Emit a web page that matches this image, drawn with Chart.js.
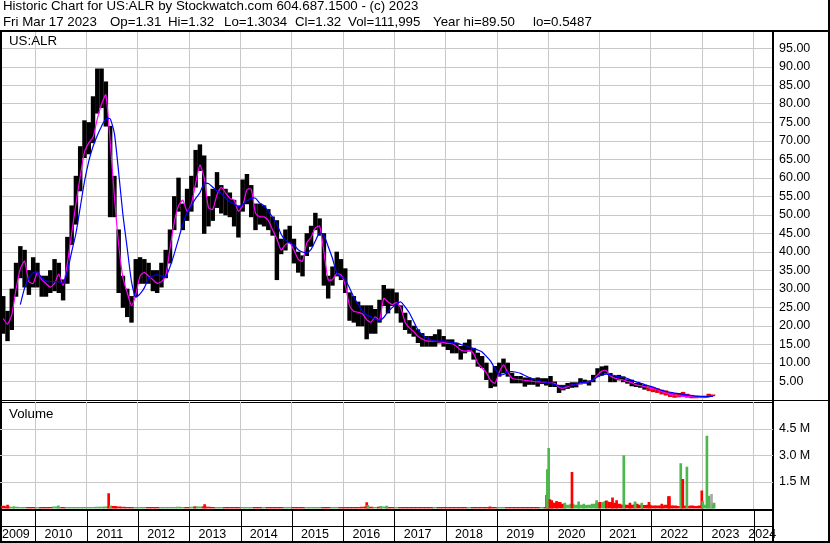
<!DOCTYPE html>
<html>
<head>
<meta charset="utf-8">
<script src="https://cdn.jsdelivr.net/npm/chart.js@4.4.1/dist/chart.umd.min.js"></script>
<style>
  html, body { margin: 0; padding: 0; background: #fff; }
  #wrap { position: relative; width: 830px; height: 543px; overflow: hidden; background: #fff;
          font-family: Arial, "Liberation Sans", sans-serif; }
  canvas { position: absolute; left: 0; top: 0; }
  .txt { position: absolute; white-space: pre; color: #000; font-size: 13.3px; line-height: 15px; }
</style>
</head>
<body>
<div id="wrap">
  <canvas id="price" width="830" height="543"></canvas>
  <canvas id="volume" width="830" height="543"></canvas>
  <div class="txt" style="left:3px;top:-2px">Historic Chart for US:ALR by Stockwatch.com 604.687.1500 - (c) 2023</div>
  <div class="txt" style="left:3px;top:14px">Fri Mar 17 2023</div>
  <div class="txt" style="left:110px;top:14px">Op=1.31</div>
  <div class="txt" style="left:168px;top:14px">Hi=1.32</div>
  <div class="txt" style="left:224px;top:14px">Lo=1.3034</div>
  <div class="txt" style="left:295px;top:14px">Cl=1.32</div>
  <div class="txt" style="left:348px;top:14px">Vol=111,995</div>
  <div class="txt" style="left:433px;top:14px">Year hi=89.50</div>
  <div class="txt" style="left:533px;top:14px">lo=0.5487</div>
  <div class="txt" style="left:9px;top:33px">US:ALR</div>
  <div class="txt" style="left:9px;top:406px">Volume</div>
</div>
<script>
// monthly bars, first one is May 2009
const firstMonth = 2009 + 4 / 12;

const priceHigh = [
  28, 24, 30, 37, 41.5, 40.5, 35, 38.5, 37, 33.5,
  33.5, 35, 38, 37, 32.5, 44, 52.5, 60.5, 68.5, 75.5,
  75, 82, 89.5, 89.5, 86, 74, 60.5, 46, 33.5, 30,
  28, 38, 38.5, 38, 37, 35, 35, 37, 40.5, 46,
  55, 60, 53, 57, 60.5, 67.5, 69, 66, 55, 57,
  61.5, 58, 57, 56, 54, 52.5, 59.5, 61, 58, 53,
  53, 52.5, 51.5, 49.5, 48.5, 43.5, 46, 47, 43.5, 40,
  39, 45, 47, 50.5, 49, 45, 33.5, 36, 40, 38,
  35.5, 29, 28, 26.5, 25.5, 25.5, 25.5, 24.5, 27, 31,
  30, 30, 29, 25.5, 23.5, 21.5, 20, 19, 18, 17.2,
  17.2, 17.7, 19, 17.2, 16.3, 16.3, 15.4, 14.5, 15.4, 16.3,
  14, 12.7, 11.8, 10, 7.3, 9.1, 10, 11.1, 10, 7.3,
  6.4, 6.4, 6, 6, 5.8, 6, 5.8, 5.8, 6.4, 4.9,
  4, 4, 4.5, 4.7, 4.7, 5.8, 5.4, 5.2, 6.7, 8.5,
  9, 9.2, 7.2, 6.5, 6.7, 6.3, 5.5, 5.4, 4.5, 4.5,
  4, 3.6, 3.4, 3.1, 2.7, 2.5, 2, 1.8, 1.8, 2.1,
  1.6, 1.3, 1.1, 1.1, 1.1, 1.6, 1.4
];
const priceLow = [
  18, 16, 19, 28, 33, 30.5, 28.5, 30.5, 30.5, 28,
  28, 29, 29.5, 29, 27, 31.5, 42, 47.5, 56.5, 65.5,
  66.5, 69.5, 77.5, 79, 74, 49.5, 49.5, 29, 25, 22.5,
  21, 28, 31.5, 31.5, 31.5, 29.5, 29, 30.5, 33, 37,
  46, 51, 46, 48.5, 51, 57.5, 62, 45, 47, 48.5,
  52, 50.5, 50, 49.5, 47, 44, 51, 53, 49.5, 46,
  47.5, 47, 46, 44.5, 32.5, 39.5, 40.5, 42.5, 37, 34.5,
  33.5, 39, 41.5, 46, 44.5, 31, 27.5, 31, 33.5, 32.5,
  29, 21.5, 21, 20, 20, 16.5, 18, 18, 21, 25.5,
  23.5, 25.5, 23.5, 21, 19, 18, 17.2, 15.5, 14.5, 14.5,
  14.5, 14.5, 15.4, 14.5, 13.6, 12.7, 12.7, 11, 12.7, 13.2,
  11, 9.1, 8.7, 5.5, 3.3, 3.7, 6.4, 7.3, 6.4, 4.6,
  4.6, 4.6, 3.7, 4.2, 4.2, 3.7, 4.4, 4, 3.6, 3.6,
  2, 2.7, 3.1, 3.4, 3.5, 4.3, 4.5, 4, 4.9, 6.3,
  6.7, 7.2, 4.9, 4.9, 5.4, 4.9, 4.5, 3.8, 3.6, 3.4,
  2.9, 2.5, 2.2, 2, 1.6, 1.3, 0.9, 0.7, 0.8, 0.9,
  0.7, 0.55, 0.55, 0.6, 0.6, 1, 1.1
];
// magenta (short) and blue (long) moving averages as drawn
const avgShort = [
  22, 20.5, 23, 30, 35.5, 37.5, 32, 31.5, 34.5, 32.5,
  31.5, 30.5, 31.5, 34, 31, 37, 45, 53, 60.4, 67,
  69.5, 71, 76, 80, 82.5, 70, 55, 42, 33, 29,
  25.5, 28.5, 33.5, 34.5, 33.5, 32.5, 31.5, 32, 33.5, 41,
  48, 52.5, 54, 51, 53, 58.5, 63.5, 60, 52, 51.5,
  55.5, 57.5, 56, 54.5, 54, 51, 52.5, 56.8, 57, 50.5,
  49.5, 49.5, 48.5, 46, 43.5, 40.5, 42, 42.5, 40.5, 38,
  37.5, 42.5, 44, 46.5, 47, 40, 32.5, 32.5, 34.2, 33.8,
  31, 25.5, 24, 23.7, 23.3, 21.7, 21, 22.5, 21.5, 27.5,
  26.5, 25.8, 26.3, 24.8, 21, 19.5, 18.5, 17.2, 16.5, 16,
  15.9, 15.9, 15.7, 15.5, 15.3, 15.2, 14.5, 13.5, 13.2, 13.4,
  12.6, 10, 8.7, 7.3, 5.3, 4.5, 7.5, 9.5, 7.5, 5.9,
  5.6, 5.5, 5.3, 5.2, 5.0, 4.9, 4.9, 4.8, 4.6, 4.5,
  3.4, 3.2, 3.6, 4.0, 4.2, 4.5, 4.6, 5.0, 5.4, 6.8,
  7.8, 8.0, 6.5, 5.9, 5.6, 5.4, 5.0, 4.7, 4.1, 3.9,
  3.6, 3.3, 3.0, 2.8, 2.3, 1.9, 1.5, 1.3, 1.1, 1.0,
  0.95, 0.9, 0.8, 0.7, 0.7, 0.8, 1.1
];
const avgLong = [
  null, null, null, null, 25.8, 30.3, 33, 34.4, 34.6, 33,
  32.2, 32, 32, 32, 31.5, 34.8, 40, 45, 52, 59,
  64.5, 68.5, 71.5, 74, 76, 76, 72, 61.5, 50, 41,
  32, 27.8, 28.7, 30.3, 32.8, 33.5, 33.8, 33.5, 33.3, 36,
  39.5, 43.5, 47.5, 50.6, 52.5, 54.5, 56, 58.6, 58.5, 57.5,
  56.5, 55.8, 54.5, 53.6, 53, 52.3, 52.8, 53.8, 54.5, 54.5,
  53.2, 52.5, 51, 49.4, 47.5, 44.8, 43.2, 42.5, 41.9, 40.6,
  40, 39.8, 40.7, 43, 45.2, 44.5, 41.5, 38.3, 34.4, 33.4,
  32.5, 30.3, 27.8, 25.8, 24, 23, 22.5, 21.9, 21.5, 22.3,
  23.9, 25, 26, 26.5, 25.2, 23.5, 21.2, 19, 17.6, 16.8,
  16.3, 15.9, 15.9, 15.9, 15.8, 15.5, 15.4, 15, 14.7, 14.3,
  13.9, 13.5, 13, 11.8, 10.5, 8.5, 6.9, 6.9, 7.6, 7.7,
  7.5, 7.2, 6.6, 6.1, 5.6, 5.4, 5.0, 4.8, 4.5, 4.2,
  3.9, 3.8, 3.9, 4.0, 4.3, 4.7, 4.8, 4.9, 5.5, 6.2,
  6.7, 7.0, 6.8, 6.6, 6.3, 6.1, 5.8, 5.3, 4.9, 4.6,
  4.2, 3.8, 3.5, 3.0, 2.6, 2.3, 2.1, 1.9, 1.7, 1.5,
  1.3, 1.2, 1.05, 0.95, 0.9, 0.95, 1.0
];
// typical volume per month (millions)
const volBase = [
  0.14, 0.1, 0.08, 0.08, 0.07, 0.07, 0.06, 0.07,
  0.06, 0.06, 0.07, 0.07, 0.09, 0.07, 0.06, 0.06, 0.07, 0.06, 0.06, 0.07,
  0.07, 0.07, 0.08, 0.08, 0.1, 0.12, 0.12, 0.1, 0.08, 0.07, 0.06, 0.06,
  0.06, 0.06, 0.06, 0.07, 0.06, 0.06, 0.06, 0.06, 0.07, 0.08, 0.07, 0.07,
  0.08, 0.09, 0.1, 0.09, 0.08, 0.07, 0.07, 0.06, 0.06, 0.06, 0.06, 0.06,
  0.06, 0.06, 0.06, 0.06, 0.06, 0.06, 0.06, 0.06, 0.06, 0.06, 0.06, 0.06,
  0.06, 0.06, 0.06, 0.06, 0.06, 0.06, 0.07, 0.07, 0.06, 0.06, 0.06, 0.06,
  0.06, 0.06, 0.06, 0.07, 0.08, 0.09, 0.08, 0.07, 0.08, 0.09, 0.07, 0.06,
  0.06, 0.06, 0.06, 0.06, 0.06, 0.06, 0.06, 0.06, 0.06, 0.06, 0.06, 0.06,
  0.06, 0.06, 0.06, 0.06, 0.06, 0.06, 0.06, 0.06, 0.06, 0.06, 0.06, 0.06,
  0.06, 0.06, 0.06, 0.06, 0.06, 0.06, 0.06, 0.06, 0.06, 0.06, 0.06, 0.06,
  0.45, 0.3, 0.35, 0.25, 0.2, 0.25, 0.2, 0.2, 0.18, 0.2, 0.25, 0.3,
  0.35, 0.4, 0.35, 0.3, 0.25, 0.2, 0.2, 0.2, 0.25, 0.2, 0.18, 0.2,
  0.15, 0.15, 0.15, 0.2, 0.15, 0.15, 0.12, 0.15, 0.12, 0.15, 0.12, 0.15,
  0.2, 0.35, 0.3
];
// single heavy days
const spikeDates = [2009.46, 2009.58, 2010.45, 2011.43, 2011.465, 2011.55, 2013.11, 2013.30,
  2016.46, 2016.48, 2016.73, 2016.85, 2018.86, 2019.965, 2019.98, 2020.006, 2020.03, 2020.07,
  2020.16, 2020.32, 2020.46, 2020.59, 2020.69, 2020.94, 2021.0, 2021.13, 2021.25, 2021.33,
  2021.47, 2021.59, 2021.69, 2021.82, 2021.96, 2022.21, 2022.34, 2022.36, 2022.58, 2022.62,
  2022.70, 2022.99, 2023.01, 2023.09, 2023.13, 2023.18, 2023.21];
const spikeVols = [0.2, 0.1, 0.15, 0.85, 0.15, 0.12, 0.1, 0.22,
  0.33, 0.18, 0.12, 0.14, 0.1, 0.75, 2.2, 3.4, 0.5, 0.35,
  0.4, 0.3, 2.05, 0.38, 0.25, 0.45, 0.35, 0.43, 0.6, 0.45,
  3.0, 0.3, 0.38, 0.3, 0.35, 0.25, 0.67, 0.67, 2.55, 1.65,
  2.35, 1.0, 0.4, 4.1, 0.7, 0.8, 0.2];
const spikeDir = ['dn', 'up', 'up', 'dn', 'up', 'dn', 'dn', 'dn',
  'dn', 'up', 'up', 'up', 'dn', 'dn', 'up', 'up', 'dn', 'dn',
  'dn', 'up', 'dn', 'up', 'up', 'up', 'dn', 'dn', 'dn', 'dn',
  'up', 'dn', 'up', 'up', 'dn', 'dn', 'dn', 'dn', 'up', 'dn',
  'up', 'dn', 'up', 'up', 'up', 'flat', 'up'];

const gridYears = [2010, 2011, 2012, 2013, 2014, 2015, 2016, 2017, 2018, 2019, 2020, 2021, 2022, 2023, 2024];
const yearLabels = ['2009', '2010', '2011', '2012', '2013', '2014', '2015', '2016', '2017', '2018',
  '2019', '2020', '2021', '2022', '2023', '2024'];
const priceTicks = [5, 10, 15, 20, 25, 30, 35, 40, 45, 50, 55, 60, 65, 70, 75, 80, 85, 90, 95];
const volTicks = [1.5, 3.0, 4.5];

const X_MIN = 2009.312, X_MAX = 2024.378;
const GRID = '#c8c8c8';
const FONT = { family: 'Arial, "Liberation Sans", sans-serif', size: 12.5 };
const dirColor = { up: '#4cb84c', dn: '#ff0000', flat: '#a8a8a8' };

const monthX = i => firstMonth + i / 12 + 1 / 24;

function labelPos(y) {
  return Math.min(X_MAX - 0.21, Math.max(X_MIN + 0.31, y + 0.452));
}

// border lines of the price panel
const priceFrame = {
  id: 'priceFrame',
  afterDraw(chart) {
    const ctx = chart.ctx;
    ctx.save();
    ctx.fillStyle = '#000';
    ctx.fillRect(0, 30, 830, 2);
    ctx.fillRect(0, 30, 2, 513);
    ctx.fillRect(772, 30, 2, 513);
    ctx.fillRect(828, 0, 2, 543);
    ctx.fillRect(0, 400, 828, 1);
    ctx.fillRect(0, 402, 772, 1);
    ctx.restore();
  }
};

// volume panel bottom + year strip
const volFrame = {
  id: 'volFrame',
  afterDraw(chart) {
    const ctx = chart.ctx;
    const xs = chart.scales.x;
    ctx.save();
    ctx.fillStyle = '#000';
    ctx.fillRect(0, 509, 774, 2);
    ctx.fillRect(0, 526, 774, 1);
    gridYears.forEach(y => {
      const px = Math.round(xs.getPixelForValue(y));
      ctx.fillRect(px, 511, 1, 30);
    });
    ctx.fillRect(0, 541, 830, 2);
    ctx.restore();
  }
};

const common = {
  responsive: false,
  animation: false,
  devicePixelRatio: 1,
  events: [],
  plugins: { legend: { display: false }, tooltip: { enabled: false } },
  datasets: { bar: { grouped: false } }
};

new Chart(document.getElementById('price'), {
  type: 'bar',
  data: {
    datasets: [
      {
        type: 'line',
        data: avgLong.map((v, i) => ({ x: monthX(i), y: v })),
        borderColor: '#0000ff', borderWidth: 1.2, pointRadius: 0, tension: 0.2, order: 0
      },
      {
        type: 'line',
        data: avgShort.map((v, i) => ({ x: monthX(i), y: v })),
        borderColor: '#ff00ff', borderWidth: 1.2, pointRadius: 0, tension: 0.2, order: 1
      },
      {
        type: 'bar',
        data: priceHigh.map((h, i) => ({ x: monthX(i), y: [priceLow[i], h] })),
        backgroundColor: priceHigh.map(h => h < 3.7 ? '#e80000' : '#000'),
        barThickness: 3.8, order: 2
      }
    ]
  },
  options: {
    ...common,
    layout: { padding: { top: 30, bottom: 143, left: 0, right: 0 } },
    scales: {
      x: {
        type: 'linear', min: X_MIN, max: X_MAX, offset: false,
        grid: { color: GRID, drawTicks: false, offset: false },
        border: { display: false },
        ticks: { display: false },
        afterBuildTicks: s => { s.ticks = gridYears.map(v => ({ value: v })); },
        afterFit: s => { s.height = 0; s.paddingLeft = 0; s.paddingRight = 0; }
      },
      y: {
        position: 'right', min: 0, max: 100,
        grid: { color: GRID, drawTicks: false },
        border: { display: false },
        ticks: { padding: 6, color: '#000', font: FONT, callback: v => v.toFixed(2) },
        afterBuildTicks: s => { s.ticks = priceTicks.map(v => ({ value: v })); },
        afterFit: s => { s.width = 57; s.paddingTop = 0; s.paddingBottom = 0; }
      }
    }
  },
  plugins: [priceFrame]
});

new Chart(document.getElementById('volume'), {
  type: 'bar',
  data: {
    datasets: [
      {
        data: spikeDates.map((d, k) => ({ x: d, y: spikeVols[k] })),
        backgroundColor: spikeDir.map(d => dirColor[d]),
        barThickness: 2, order: 0
      },
      {
        data: volBase.map((v, i) => ({ x: monthX(i), y: v })),
        backgroundColor: volBase.map((v, i) => (i > 0 && avgShort[i] >= avgShort[i - 1]) ? dirColor.up : dirColor.dn),
        barThickness: 4.3, order: 1
      }
    ]
  },
  options: {
    ...common,
    layout: { padding: { top: 402, bottom: 0, left: 0, right: 0 } },
    scales: {
      x: {
        type: 'linear', min: X_MIN, max: X_MAX, offset: false,
        grid: { color: GRID, drawTicks: false, offset: false },
        border: { display: false },
        ticks: { display: false },
        afterBuildTicks: s => { s.ticks = gridYears.map(v => ({ value: v })); },
        afterFit: s => { s.height = 0; s.paddingLeft = 0; s.paddingRight = 0; }
      },
      xl: {
        type: 'linear', position: 'bottom', min: X_MIN, max: X_MAX, offset: false,
        grid: { display: false },
        border: { display: false },
        ticks: {
          autoSkip: false, maxRotation: 0, padding: 10.5, color: '#000', font: FONT,
          callback: (v, idx) => yearLabels[idx]
        },
        afterBuildTicks: s => { s.ticks = yearLabels.map(y => ({ value: labelPos(+y) })); },
        afterFit: s => { s.height = 34.5; s.paddingLeft = 0; s.paddingRight = 0; }
      },
      y: {
        position: 'right', min: 0, max: 6.03,
        grid: { color: GRID, drawTicks: false },
        border: { display: false },
        ticks: { padding: 6, color: '#000', font: FONT, callback: v => v.toFixed(1) + ' M' },
        afterBuildTicks: s => { s.ticks = volTicks.map(v => ({ value: v })); },
        afterFit: s => { s.width = 57; s.paddingTop = 0; s.paddingBottom = 0; }
      }
    }
  },
  plugins: [volFrame]
});
</script>
</body>
</html>
